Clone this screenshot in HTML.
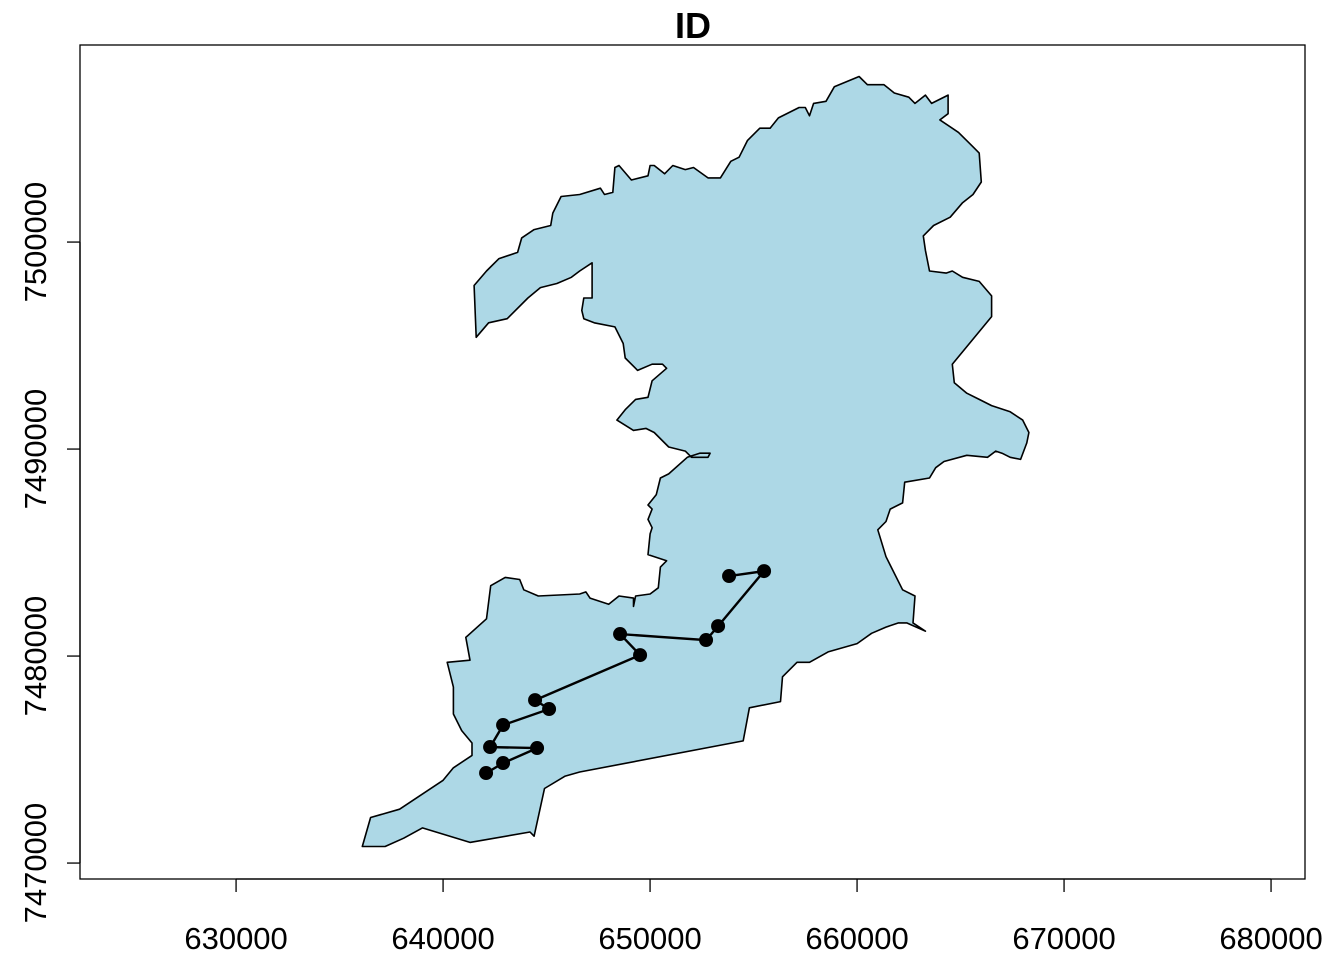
<!DOCTYPE html>
<html><head><meta charset="utf-8"><style>
html,body{margin:0;padding:0;background:#fff;}
svg{display:block;font-family:"Liberation Sans",Arial,sans-serif;}
</style></head><body>
<svg id="chart" width="1344" height="960" viewBox="0 0 1344 960" xmlns="http://www.w3.org/2000/svg">
<text x="693" y="38" text-anchor="middle" font-size="36" font-weight="bold">ID</text>
<g id="poly"></g>
<g id="track"></g>
<rect x="80" y="45" width="1225" height="834" fill="none" stroke="#000" stroke-width="1.3"/>
<g id="xaxis"></g>
<g id="yaxis"></g>
</svg>
<script>
// Boundary vertices (km)
const boundaryX = [660.1,660.5,661.3,661.8,662.5,662.8,663.3,663.6,664.4,664.4,664.0,664.9,665.6,665.9,666.0,665.6,665.1,664.5,663.7,663.2,663.3,663.5,664.3,664.6,665.1,665.9,666.5,666.5,664.6,664.7,665.3,665.9,666.5,667.4,668.0,668.3,668.2,667.9,667.4,667.0,666.7,666.3,665.3,664.2,663.8,663.5,662.3,662.2,661.6,661.4,661.0,661.4,662.2,662.8,662.7,663.3,662.4,662.0,661.4,660.7,660.0,658.6,657.7,657.1,656.4,656.3,654.8,654.5,646.6,645.9,644.9,644.4,644.2,641.3,639.0,638.1,637.2,636.1,636.5,637.9,640.0,640.5,641.4,641.4,640.9,640.5,640.5,640.2,641.3,641.1,642.1,642.3,643.0,643.7,643.9,644.6,646.6,646.9,647.1,648.0,648.5,649.2,649.2,649.3,650.0,650.4,650.5,650.8,649.9,650.0,650.1,649.9,650.1,649.9,650.3,650.5,650.9,651.8,652.4,652.9,652.8,652.0,651.7,650.9,650.2,649.8,649.2,648.4,648.8,649.3,649.9,650.1,650.8,650.6,650.1,649.4,648.8,648.7,648.3,647.3,646.8,646.7,646.8,647.2,647.2,647.2,646.6,646.2,645.5,644.7,644.1,643.1,642.2,641.6,641.5,642.1,642.7,643.6,643.8,644.4,645.2,645.3,645.7,646.6,647.6,647.8,648.2,648.3,648.5,649.1,649.9,650.0,650.2,650.7,651.1,651.7,652.1,652.8,653.4,653.9,654.3,654.7,655.3,655.8,656.2,657.2,657.5,657.7,657.9,658.5,658.9];
const boundaryY = [7508.0,7507.6,7507.6,7507.2,7507.0,7506.7,7507.1,7506.7,7507.1,7506.2,7505.9,7505.3,7504.6,7504.3,7502.9,7502.3,7501.9,7501.2,7500.8,7500.3,7499.6,7498.6,7498.5,7498.6,7498.3,7498.1,7497.4,7496.4,7494.1,7493.2,7492.7,7492.4,7492.1,7491.8,7491.4,7490.8,7490.3,7489.5,7489.6,7489.8,7489.9,7489.6,7489.7,7489.4,7489.1,7488.6,7488.4,7487.4,7487.1,7486.5,7486.1,7484.8,7483.2,7482.9,7481.6,7481.2,7481.6,7481.6,7481.4,7481.1,7480.6,7480.2,7479.7,7479.7,7479.0,7477.8,7477.5,7475.9,7474.4,7474.2,7473.6,7471.3,7471.5,7471.0,7471.7,7471.2,7470.8,7470.8,7472.2,7472.6,7474.0,7474.6,7475.2,7475.8,7476.4,7477.2,7478.5,7479.7,7479.8,7480.9,7481.8,7483.4,7483.8,7483.7,7483.2,7482.9,7483.0,7483.1,7482.8,7482.5,7482.9,7482.8,7482.4,7482.9,7483.0,7483.3,7484.3,7484.6,7484.9,7485.9,7486.2,7486.6,7487.1,7487.3,7487.8,7488.6,7488.8,7489.6,7489.8,7489.8,7489.6,7489.6,7489.9,7490.1,7490.8,7491.0,7490.9,7491.4,7491.9,7492.4,7492.5,7493.3,7493.9,7494.1,7494.1,7493.8,7494.4,7495.1,7495.9,7496.1,7496.3,7496.7,7497.3,7497.3,7497.8,7499.0,7498.6,7498.3,7498.0,7497.8,7497.3,7496.3,7496.1,7495.4,7497.9,7498.6,7499.2,7499.5,7500.2,7500.6,7500.8,7501.4,7502.2,7502.3,7502.6,7502.3,7502.4,7503.6,7503.7,7503.0,7503.2,7503.7,7503.7,7503.3,7503.7,7503.5,7503.6,7503.1,7503.1,7503.9,7504.1,7504.9,7505.5,7505.5,7506.0,7506.5,7506.5,7506.1,7506.7,7506.8,7507.5];
// Track points (m)
const trackX = [653816,655507,653285,652705,648551,649517,644444,645121,642899,642271,644541,642899,642077];
const trackY = [7483865,7484106,7481449,7480773,7481063,7480048,7477874,7477440,7476667,7475604,7475556,7474831,7474348];
const xTicks = [630000,640000,650000,660000,670000,680000];
const yTicks = [7470000,7480000,7490000,7500000];

const NS="http://www.w3.org/2000/svg";
const X0=622460, X1=681640, Y0=7469230, Y1=7509520;
const PL=80, PR=1305, PT=45, PB=879;
const sx = v => PL + (v-X0)/(X1-X0)*(PR-PL);
const sy = v => PB - (v-Y0)/(Y1-Y0)*(PB-PT);
function mk(tag, attrs, parent){const e=document.createElementNS(NS,tag);for(const k in attrs)e.setAttribute(k,attrs[k]);parent.appendChild(e);return e;}

const polyG=document.getElementById('poly');
const pts=boundaryX.map((x,i)=>sx(x*1000).toFixed(1)+','+sy(boundaryY[i]*1000).toFixed(1)).join(' ');
const pg=mk('polygon',{points:pts,fill:'#ADD8E6',stroke:'#000','stroke-width':1.6,'stroke-linejoin':'round'},polyG);



const trG=document.getElementById('track');
const lp=trackX.map((x,i)=>sx(x).toFixed(1)+','+sy(trackY[i]).toFixed(1)).join(' ');
const pl=mk('polyline',{points:lp,fill:'none',stroke:'#000','stroke-width':2.4},trG);


trackX.forEach((x,i)=>{
  const c=mk('circle',{cx:sx(x),cy:sy(trackY[i]),r:7,fill:'#000'},trG);
  
  
});

const xa=document.getElementById('xaxis');
const xl=mk('line',{x1:sx(xTicks[0]),x2:sx(xTicks[xTicks.length-1]),y1:PB,y2:PB,stroke:'#000','stroke-width':1.3},xa);


xTicks.forEach(t=>{
  const tk=mk('line',{x1:sx(t),x2:sx(t),y1:PB,y2:PB+13,stroke:'#000','stroke-width':1.3},xa);
  
  
  const tx=mk('text',{x:sx(t),y:949,'text-anchor':'middle','font-size':31},xa);
  tx.textContent=String(t);
  
  
});
const ya=document.getElementById('yaxis');
const yl=mk('line',{x1:PL,x2:PL,y1:sy(yTicks[0]),y2:sy(yTicks[yTicks.length-1]),stroke:'#000','stroke-width':1.3},ya);


yTicks.forEach(t=>{
  const tk=mk('line',{x1:PL-13,x2:PL,y1:sy(t),y2:sy(t),stroke:'#000','stroke-width':1.3},ya);
  
  
  const y=sy(t);
  const tx=mk('text',{x:46,y:y,'text-anchor':'middle','font-size':31,transform:'rotate(-90 46 '+y+')'},ya);
  tx.textContent=String(t);
  
  
});
</script>
</body></html>
